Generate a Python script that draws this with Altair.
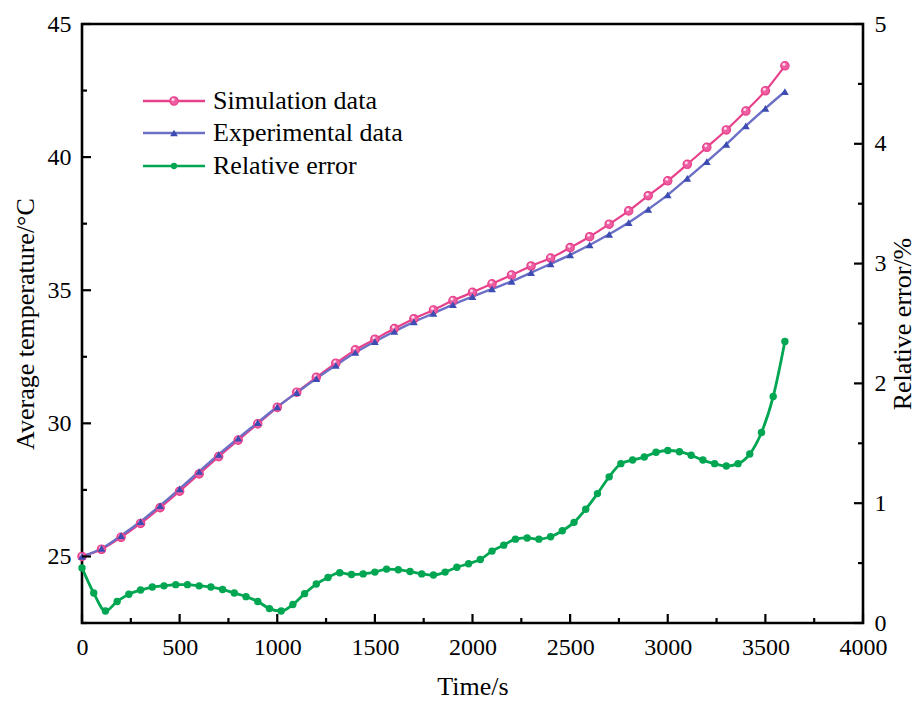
import altair as alt
import pandas as pd

# ---- data -------------------------------------------------------------
time_temp = list(range(0, 3700, 100))  # s
sim_temp = [25.00, 25.27, 25.72, 26.24, 26.83, 27.45, 28.10, 28.75, 29.37, 29.98,
            30.60, 31.17, 31.73, 32.26, 32.76, 33.16, 33.56, 33.93, 34.26, 34.61,
            34.92, 35.24, 35.57, 35.91, 36.21, 36.60, 37.01, 37.48, 37.98, 38.55,
            39.11, 39.73, 40.37, 41.02, 41.73, 42.49, 43.43]
exp_temp = [25.00, 25.30, 25.78, 26.31, 26.91, 27.54, 28.19, 28.83, 29.44, 30.03,
            30.62, 31.15, 31.68, 32.18, 32.66, 33.07, 33.45, 33.81, 34.13, 34.46,
            34.76, 35.05, 35.33, 35.66, 35.99, 36.33, 36.70, 37.10, 37.54, 38.04,
            38.58, 39.20, 39.83, 40.48, 41.17, 41.83, 42.46]

time_err = list(range(0, 3660, 60))  # s
rel_err = [0.46, 0.25, 0.10, 0.18, 0.24, 0.275, 0.30, 0.31, 0.32, 0.32,
           0.31, 0.30, 0.28, 0.25, 0.22, 0.18, 0.12, 0.10, 0.155, 0.245,
           0.325, 0.38, 0.42, 0.405, 0.41, 0.425, 0.45, 0.445, 0.43, 0.41,
           0.40, 0.425, 0.465, 0.495, 0.53, 0.60, 0.65, 0.70, 0.71, 0.70,
           0.72, 0.77, 0.84, 0.95, 1.08, 1.22, 1.33, 1.36, 1.385, 1.425,
           1.44, 1.43, 1.40, 1.36, 1.33, 1.31, 1.33, 1.41, 1.59, 1.89,
           2.35]

series_names = ["Simulation data", "Experimental data", "Relative error"]

x_major = [0, 500, 1000, 1500, 2000, 2500, 3000, 3500, 4000]
x_minor = [250, 750, 1250, 1750, 2250, 2750, 3250, 3750]
temp_major = [25, 30, 35, 40, 45]
temp_minor = [22.5, 27.5, 32.5, 37.5, 42.5]
err_major = [0, 1, 2, 3, 4, 5]
err_minor = [0.5, 1.5, 2.5, 3.5, 4.5]

# ---- styling ----------------------------------------------------------
W, H = 781, 599
FONT = "Liberation Serif"
PINK, PINK_FILL = "#e8418b", "#ee5ea2"
BLUE_LINE, BLUE_MARK = "#6b6fc5", "#3d4cb2"
GREEN = "#00a651"
MAJOR_LEN, MINOR_LEN = 9, 5

temp_df = pd.DataFrame({"t": time_temp, "sim": sim_temp, "exp": exp_temp})
err_df = pd.DataFrame({"t": time_err, "err": rel_err})

x_scale = alt.Scale(domain=[0, 4000], nice=False, zero=False)
x_axis = alt.Axis(title="Time/s", values=x_major, format="d", ticks=False,
                  domain=False, grid=False, labelPadding=12, titlePadding=14,
                  labelFlush=False)
t_scale = alt.Scale(domain=[22.5, 45], nice=False, zero=False)
t_axis = alt.Axis(title="Average temperature/°C", orient="left", values=temp_major,
                  ticks=False, domain=False, grid=False, labelPadding=11,
                  titlePadding=9, labelFlush=False)
e_scale = alt.Scale(domain=[0, 5], nice=False, zero=False)
e_axis = alt.Axis(title="Relative error/%", orient="right", values=err_major,
                  ticks=False, domain=False, grid=False, labelPadding=11,
                  titlePadding=3, titleAngle=270, titleBaseline="top",
                  labelFlush=False)

X = lambda f: alt.X(f"{f}:Q", scale=x_scale, axis=x_axis)
YT = lambda f: alt.Y(f"{f}:Q", scale=t_scale, axis=t_axis)
YE = lambda f: alt.Y(f"{f}:Q", scale=e_scale, axis=e_axis)

# ---- temperature curves (left axis) -----------------------------------
base_t = alt.Chart(temp_df)
sim_line = base_t.mark_line(color=PINK, strokeWidth=2.2, interpolate="monotone").encode(
    x=X("t"), y=YT("sim"))
exp_line = base_t.mark_line(color=BLUE_LINE, strokeWidth=2.4, interpolate="monotone").encode(
    x=X("t"), y=YT("exp"))
sim_pts = base_t.mark_point(shape="circle", filled=True, size=70, fill=PINK_FILL,
                            stroke=PINK, strokeWidth=1.2, opacity=1).encode(
    x=X("t"), y=YT("sim"))
sim_glint = base_t.mark_point(shape="circle", filled=True, size=9, color="#ffd9ec",
                              opacity=1, xOffset=-1, yOffset=-1.5).encode(
    x=X("t"), y=YT("sim"))
exp_pts = base_t.mark_point(shape="triangle-up", filled=True, size=60,
                            color=BLUE_MARK, opacity=1).encode(
    x=X("t"), y=YT("exp"))


def y_ticks(values, length, yenc, right=False):
    df = pd.DataFrame({"v": values})
    x0, x1 = (W - length, W) if right else (0, length)
    return alt.Chart(df).mark_rule(color="black", strokeWidth=2.2).encode(
        y=yenc("v"), x=alt.value(x0), x2=alt.value(x1))


def x_ticks(values, length):
    df = pd.DataFrame({"v": values})
    return alt.Chart(df).mark_rule(color="black", strokeWidth=2.2).encode(
        x=X("v"), y=alt.value(H - length), y2=alt.value(H))


# ---- legend (line + marker + label) -----------------------------------
def legend_row(label, ypix, line_color, mark):
    df = pd.DataFrame({"label": [label]})
    base = alt.Chart(df)
    line = base.mark_rule(color=line_color, strokeWidth=2.4).encode(
        x=alt.value(61), x2=alt.value(123), y=alt.value(ypix))
    txt = base.mark_text(align="left", baseline="middle", font=FONT, fontSize=26,
                         color="black").encode(
        x=alt.value(131), y=alt.value(ypix), text="label:N")
    return [line] + [m.encode(x=alt.value(92), y=alt.value(ypix)) for m in mark(base)] + [txt]


legend_layers = []
legend_layers += legend_row(series_names[0], 77, PINK, lambda b: [
    b.mark_point(shape="circle", filled=True, size=70, fill=PINK_FILL, stroke=PINK,
                 strokeWidth=1.2, opacity=1),
    b.mark_point(shape="circle", filled=True, size=9, color="#ffd9ec", opacity=1,
                 xOffset=-1, yOffset=-1.5)])
legend_layers += legend_row(series_names[1], 109, BLUE_LINE, lambda b: [
    b.mark_point(shape="triangle-up", filled=True, size=60, color=BLUE_MARK, opacity=1)])
legend_layers += legend_row(series_names[2], 142, GREEN, lambda b: [
    b.mark_point(shape="circle", filled=True, size=40, color=GREEN, opacity=1)])

temp_layer = alt.layer(
    sim_line, exp_line, sim_pts, sim_glint, exp_pts,
    y_ticks(temp_major, MAJOR_LEN, YT), y_ticks(temp_minor, MINOR_LEN, YT),
    x_ticks(x_major, MAJOR_LEN), x_ticks(x_minor, MINOR_LEN),
    *legend_layers,
)

# ---- relative error (right axis) --------------------------------------
base_e = alt.Chart(err_df)
err_line = base_e.mark_line(color=GREEN, strokeWidth=2.8, interpolate="monotone").encode(
    x=X("t"), y=YE("err"))
err_pts = base_e.mark_point(shape="circle", filled=True, size=55, color=GREEN,
                            opacity=1).encode(x=X("t"), y=YE("err"))

err_layer = alt.layer(
    err_line, err_pts,
    y_ticks(err_major, MAJOR_LEN, YE, right=True),
    y_ticks(err_minor, MINOR_LEN, YE, right=True),
)

chart = alt.layer(temp_layer, err_layer).resolve_scale(y="independent").properties(
    width=W, height=H,
    autosize=alt.AutoSizeParams(type="none"),
    padding={"left": 82, "top": 24, "right": 54, "bottom": 79},
    background="white",
).configure_view(
    stroke="black", strokeWidth=2.6
).configure_axis(
    labelFont=FONT, labelFontSize=24, labelColor="black",
    titleFont=FONT, titleFontSize=26, titleFontWeight="normal", titleColor="black",
)

chart.save("out.html", embed_options={"renderer": "svg", "actions": False})
